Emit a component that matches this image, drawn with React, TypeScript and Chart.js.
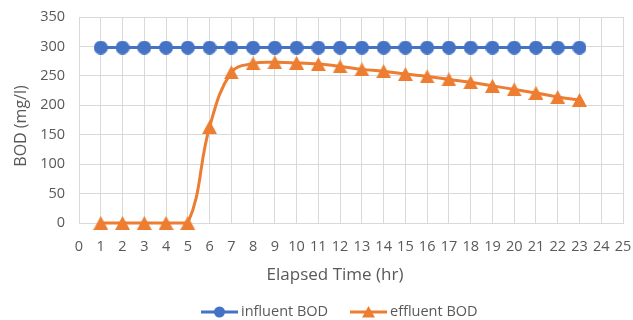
import React, { useEffect, useRef } from "react";
import { Chart, registerables } from "chart.js";

Chart.register(...registerables);

const hours = [1, 2, 3, 4, 5, 6, 7, 8, 9, 10, 11, 12, 13, 14, 15, 16, 17, 18, 19, 20, 21, 22, 23];
const influentBOD = [298, 298, 298, 298, 298, 298, 298, 298, 298, 298, 298, 298, 298, 298, 298, 298, 298, 298, 298, 298, 298, 298, 298];
const effluentBOD = [0, 0, 0, 0, 0, 163, 256, 271, 273, 272, 270, 266, 261, 258, 253, 249, 244, 239, 233, 227, 221, 214, 209];
const seriesNames = ["influent BOD", "effluent BOD"];
const xTitle = "Elapsed Time (hr)";
const yTitle = "BOD (mg/l)";
const xMin = 0;
const xMax = 25;
const yMin = 0;
const yMax = 350;
const yStep = 50;

const BLUE = "#4472C4";
const ORANGE = "#ED7D31";
const TEXT = "#595959";
const GRID = "#D9D9D9";
const FONT = "'Open Sans', 'Liberation Sans', sans-serif";

function circleMarker(color: string, d: number): HTMLCanvasElement {
  const c = document.createElement("canvas");
  c.width = d;
  c.height = d;
  const ctx = c.getContext("2d")!;
  ctx.fillStyle = color;
  ctx.beginPath();
  ctx.arc(d / 2, d / 2, d / 2, 0, Math.PI * 2);
  ctx.fill();
  return c;
}

function triangleMarker(color: string, w: number, h: number): HTMLCanvasElement {
  const c = document.createElement("canvas");
  c.width = w;
  c.height = h;
  const ctx = c.getContext("2d")!;
  ctx.fillStyle = color;
  ctx.beginPath();
  ctx.moveTo(w / 2, 0);
  ctx.lineTo(w, h);
  ctx.lineTo(0, h);
  ctx.closePath();
  ctx.fill();
  return c;
}

const decorPlugin = {
  id: "decor",
  afterDraw(chart: any) {
    const ctx = chart.ctx as CanvasRenderingContext2D;
    ctx.save();
    ctx.fillStyle = TEXT;
    // x axis title
    ctx.font = `17px ${FONT}`;
    ctx.textAlign = "center";
    ctx.textBaseline = "middle";
    ctx.fillText(xTitle, 335, 275);
    // y axis title
    ctx.save();
    ctx.translate(21, 126);
    ctx.rotate(-Math.PI / 2);
    ctx.font = `16px ${FONT}`;
    ctx.fillText(yTitle, 0, 0);
    ctx.restore();
    // legend
    const ly = 312;
    const items = [
      { x: 201, color: BLUE, kind: "circle" },
      { x: 350, color: ORANGE, kind: "triangle" },
    ];
    ctx.font = `14.5px ${FONT}`;
    ctx.textAlign = "left";
    items.forEach((it, i) => {
      ctx.strokeStyle = it.color;
      ctx.fillStyle = it.color;
      ctx.lineWidth = 3;
      ctx.beginPath();
      ctx.moveTo(it.x, ly);
      ctx.lineTo(it.x + 37, ly);
      ctx.stroke();
      const cx = it.x + 18.5;
      ctx.beginPath();
      if (it.kind === "circle") {
        ctx.arc(cx, ly, 5.5, 0, Math.PI * 2);
      } else {
        ctx.moveTo(cx, ly - 6);
        ctx.lineTo(cx + 6.5, ly + 5.5);
        ctx.lineTo(cx - 6.5, ly + 5.5);
        ctx.closePath();
      }
      ctx.fill();
      ctx.fillStyle = TEXT;
      ctx.fillText(chart.data.datasets[i].label, it.x + 40, ly);
    });
    ctx.restore();
  },
};

export default function App() {
  const ref = useRef<HTMLCanvasElement | null>(null);

  useEffect(() => {
    if (!ref.current) return;
    const circ = circleMarker(BLUE, 14);
    const tri = triangleMarker(ORANGE, 15, 14);
    const chart = new Chart(ref.current, {
      type: "line",
      data: {
        datasets: [
          {
            label: seriesNames[0],
            data: hours.map((h, i) => ({ x: h, y: influentBOD[i] })),
            borderColor: BLUE,
            backgroundColor: BLUE,
            borderWidth: 3,
            pointStyle: circ,
            pointRadius: 7,
            pointHoverRadius: 7,
            tension: 0,
            clip: false,
          },
          {
            label: seriesNames[1],
            data: hours.map((h, i) => ({ x: h, y: effluentBOD[i] })),
            borderColor: ORANGE,
            backgroundColor: ORANGE,
            borderWidth: 3,
            pointStyle: tri,
            pointRadius: 7,
            pointHoverRadius: 7,
            tension: 0.4,
            clip: false,
          },
        ],
      },
      options: {
        animation: false,
        responsive: false,
        maintainAspectRatio: false,
        layout: { padding: { top: 17, right: 9, left: 0, bottom: 0 } },
        plugins: {
          tooltip: { enabled: false },
          legend: { display: false },
        },
        scales: {
          x: {
            type: "linear",
            min: xMin,
            max: xMax,
            ticks: { stepSize: 1, color: TEXT, font: { family: FONT, size: 14.5 }, padding: 15, maxRotation: 0, autoSkip: false },
            grid: { color: GRID, drawTicks: false },
            border: { color: GRID },
            afterFit: (s: any) => {
              s.height = 97;
              s.paddingLeft = 0;
              s.paddingRight = 0;
            },
          },
          y: {
            min: yMin,
            max: yMax,
            ticks: { stepSize: yStep, color: TEXT, font: { family: FONT, size: 14.5 }, padding: 14 },
            grid: { color: GRID, drawTicks: false },
            border: { color: GRID },
            afterFit: (s: any) => {
              s.width = 79;
              s.paddingTop = 0;
              s.paddingBottom = 0;
            },
          },
        },
      },
      plugins: [decorPlugin],
    });
    return () => chart.destroy();
  }, []);

  return (
    <div style={{ position: "fixed", left: 0, top: 0, width: 633, height: 320, background: "#fff" }}>
      <canvas ref={ref} width={633} height={320} style={{ display: "block" }} />
    </div>
  );
}
